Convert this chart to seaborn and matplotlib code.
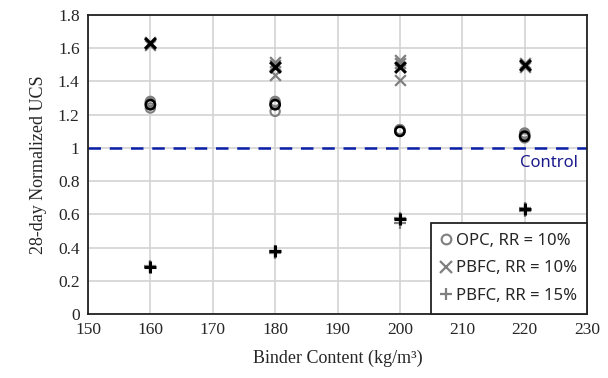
import numpy as np
import pandas as pd
import matplotlib
matplotlib.use('Agg')
import matplotlib.pyplot as plt
import seaborn as sns
from matplotlib.lines import Line2D

binder = [160, 180, 200, 220]

# replicate values (grey) and mean values (black)
opc_rep = [[1.24, 1.27, 1.28], [1.22, 1.28, 1.27], [1.10, 1.11, 1.11], [1.06, 1.08, 1.09]]
opc_mean = [1.26, 1.26, 1.10, 1.07]
pbfc10_rep = [[1.62, 1.64, 1.63], [1.52, 1.44, 1.50], [1.53, 1.41, 1.51], [1.50, 1.49, 1.51]]
pbfc10_mean = [1.63, 1.49, 1.49, 1.50]
pbfc15_rep = [[0.28, 0.29, 0.28], [0.38, 0.37, 0.38], [0.55, 0.58, 0.57], [0.62, 0.64, 0.63]]
pbfc15_mean = [0.28, 0.38, 0.57, 0.63]

series = [
    ('OPC, RR = 10%', 'o', opc_rep, opc_mean),
    ('PBFC, RR = 10%', 'x', pbfc10_rep, pbfc10_mean),
    ('PBFC, RR = 15%', '+', pbfc15_rep, pbfc15_mean),
]

sns.set_style('white')
plt.rcParams['font.family'] = ['Liberation Serif', 'DejaVu Serif']

fig = plt.figure(figsize=(6.08, 3.78), dpi=100)
ax = fig.add_axes([0.1447, 0.1693, 0.8208, 0.791])

grey = '#7f7f7f'
for name, mk, rep, mean in series:
    rows = [(b, v) for b, vals in zip(binder, rep) for v in vals]
    df = pd.DataFrame(rows, columns=['binder', 'ucs'])
    dm = pd.DataFrame({'binder': binder, 'ucs': mean})
    if mk == 'o':
        sns.scatterplot(data=df, x='binder', y='ucs', marker='o', s=45,
                        facecolor='none', edgecolor=grey, linewidth=1.5, ax=ax, zorder=3)
        sns.scatterplot(data=dm, x='binder', y='ucs', marker='o', s=45,
                        facecolor='none', edgecolor='black', linewidth=1.8, ax=ax, zorder=4)
    else:
        sz = 60 if mk == 'x' else 70
        sns.scatterplot(data=df, x='binder', y='ucs', marker=mk, s=sz,
                        color=grey, linewidth=1.6, ax=ax, zorder=3)
        sns.scatterplot(data=dm, x='binder', y='ucs', marker=mk, s=sz,
                        color='black', linewidth=2.2, ax=ax, zorder=4)

ax.axhline(1.0, color='#0a1fa8', linestyle=(0, (5, 3.5)), linewidth=1.8, zorder=2)
ax.text(228.6, 0.955, 'Control', color='#1a1a8c', fontsize=12, ha='right', va='top',
        family=['Noto Sans', 'DejaVu Sans'])

ax.set_xlim(150, 230)
ax.set_ylim(0, 1.8)
ax.set_xticks(np.arange(150, 231, 10))
ax.set_yticks(np.arange(0, 1.81, 0.2))
ax.set_yticklabels(['0', '0.2', '0.4', '0.6', '0.8', '1', '1.2', '1.4', '1.6', '1.8'])
ax.tick_params(labelsize=12.5, length=0, pad=6)
ax.grid(True, color='#d3d3d3', linewidth=1.2)
ax.set_axisbelow(True)
for sp in ax.spines.values():
    sp.set_color('#222222')
    sp.set_linewidth(1.3)

ax.set_xlabel('Binder Content (kg/m³)', fontsize=13, labelpad=8)
ax.set_ylabel('28-day Normalized UCS', fontsize=13, labelpad=8)

handles = [
    Line2D([], [], marker='o', ls='none', mfc='none', mec=grey, mew=1.5, ms=7),
    Line2D([], [], marker='x', ls='none', color=grey, mew=1.6, ms=8),
    Line2D([], [], marker='+', ls='none', color=grey, mew=1.6, ms=9),
]
leg = ax.legend(handles, [s[0] for s in series], loc='lower right',
                bbox_to_anchor=(1.0, 0.0), borderaxespad=0, frameon=True, fancybox=False,
                handlelength=0.6, handletextpad=0.3, labelspacing=0.7,
                borderpad=0.6, prop={'family': ['Noto Sans', 'DejaVu Sans'], 'size': 12})
leg.get_frame().set_edgecolor('#222222')
leg.get_frame().set_linewidth(1.3)
leg.get_frame().set_alpha(1)

fig.savefig('out.png', dpi=100)
